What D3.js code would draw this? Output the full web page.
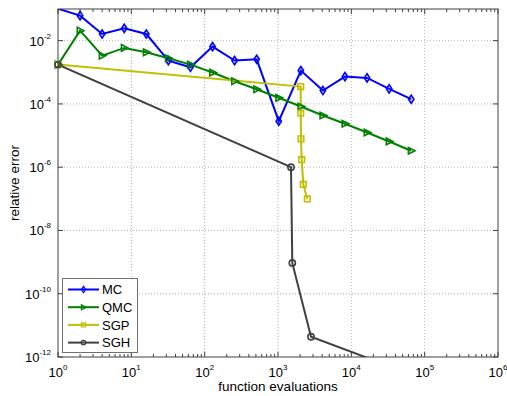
<!DOCTYPE html>
<html>
<head>
<meta charset="utf-8">
<script src="https://cdn.jsdelivr.net/npm/d3@7"></script>
<style>
  body { margin: 0; background: #fff; }
  text { font-family: "Liberation Sans", Arial, sans-serif; fill: #000; }
</style>
</head>
<body>
<div id="chart"></div>
<script>
// number of function evaluations and relative error for each method
const mcN = [1, 2, 4, 8, 16, 32, 64, 128, 256, 512, 1024, 2048, 4096, 8192, 16384, 32768, 65536];
const mcErr = [0.102, 0.0617, 0.0162, 0.0245, 0.0162, 0.00234, 0.00144, 0.00647, 0.00234, 0.00257,
               2.84e-5, 0.00113, 2.65e-4, 7.3e-4, 6.65e-4, 2.99e-4, 1.41e-4];
const qmcN = [1, 2, 4, 8, 16, 32, 64, 128, 256, 512, 1024, 2048, 4096, 8192, 16384, 32768, 65536];
const qmcErr = [1.75e-3, 0.0207, 0.00336, 0.00589, 0.00428, 0.00277, 0.00175, 9.8e-4, 5.2e-4, 2.91e-4,
                1.56e-4, 8.28e-5, 4.3e-5, 2.36e-5, 1.25e-5, 6.5e-6, 3.3e-6];
const sgpN = [1, 2041, 2041, 2058, 2105, 2214, 2511];
const sgpErr = [1.75e-3, 3.54e-4, 5.1e-5, 7.9e-6, 1.73e-6, 2.86e-7, 9.9e-8];
const sghN = [1, 1504, 1567, 2818, 30000];
const sghErr = [1.75e-3, 1.0e-6, 9.4e-10, 4.37e-12, 5.6e-13];

const xTicks = [0, 1, 2, 3, 4, 5, 6];           // exponents of 10
const yTicks = [-12, -10, -8, -6, -4, -2];

const series = [
  { name: "MC",  n: mcN,  err: mcErr,  color: "#0000ff", marker: "diamond" },
  { name: "QMC", n: qmcN, err: qmcErr, color: "#008000", marker: "triangle" },
  { name: "SGP", n: sgpN, err: sgpErr, color: "#bfbf00", marker: "square" },
  { name: "SGH", n: sghN, err: sghErr, color: "#404040", marker: "circle" }
];

const W = 507, H = 396;
const margin = { top: 9, right: 9, bottom: 39, left: 58 };
const width = W - margin.left - margin.right;
const height = H - margin.top - margin.bottom;

const svg = d3.select("#chart").append("svg")
  .attr("width", W).attr("height", H);
const g = svg.append("g").attr("transform", `translate(${margin.left},${margin.top})`);

const x = d3.scaleLog().domain([1, 1e6]).range([0, width]);
const y = d3.scaleLog().domain([1e-12, 1e-1]).range([height, 0]);

// grid
g.append("g").selectAll("line").data(xTicks.slice(1, -1)).join("line")
  .attr("x1", d => x(Math.pow(10, d))).attr("x2", d => x(Math.pow(10, d)))
  .attr("y1", 0).attr("y2", height)
  .attr("stroke", "#b4b4b4").attr("stroke-dasharray", "1,2");
g.append("g").selectAll("line").data(yTicks.slice(1)).join("line")
  .attr("y1", d => y(Math.pow(10, d))).attr("y2", d => y(Math.pow(10, d)))
  .attr("x1", 0).attr("x2", width)
  .attr("stroke", "#b4b4b4").attr("stroke-dasharray", "1,2");

// ticks (inside, on all four sides)
const minor = [];
for (let k = 0; k < 6; k++) for (let m = 2; m < 10; m++) minor.push(m * Math.pow(10, k));
const tickG = g.append("g").attr("stroke", "#404040");
[0, height].forEach(base => {
  const dir = base === 0 ? 1 : -1;
  tickG.append("g").selectAll("line").data(minor).join("line")
    .attr("x1", d => x(d)).attr("x2", d => x(d))
    .attr("y1", base).attr("y2", base + dir * 3);
  tickG.append("g").selectAll("line").data(xTicks).join("line")
    .attr("x1", d => x(Math.pow(10, d))).attr("x2", d => x(Math.pow(10, d)))
    .attr("y1", base).attr("y2", base + dir * 5);
});
[0, width].forEach(base => {
  const dir = base === 0 ? 1 : -1;
  tickG.append("g").selectAll("line").data(yTicks).join("line")
    .attr("y1", d => y(Math.pow(10, d))).attr("y2", d => y(Math.pow(10, d)))
    .attr("x1", base).attr("x2", base + dir * 5);
});

// tick labels
g.append("g").selectAll("text").data(xTicks).join("text")
  .attr("x", d => x(Math.pow(10, d)))
  .attr("y", height + 20)
  .attr("text-anchor", "middle")
  .style("font-size", "13px")
  .each(function(d) {
    const t = d3.select(this);
    t.append("tspan").text("10");
    t.append("tspan").attr("dy", -7).style("font-size", "8px").text(d);
  });
g.append("g").selectAll("text").data(yTicks).join("text")
  .attr("x", -7)
  .attr("y", d => y(Math.pow(10, d)) + 5)
  .attr("text-anchor", "end")
  .style("font-size", "13px")
  .each(function(d) {
    const t = d3.select(this);
    t.append("tspan").text("10");
    t.append("tspan").attr("dy", -7).style("font-size", "8px").text(d);
  });

// axis labels
svg.append("text")
  .attr("x", margin.left + width / 2).attr("y", H - 5)
  .attr("text-anchor", "middle").style("font-size", "13.5px")
  .text("function evaluations");
svg.append("text")
  .attr("transform", `translate(19,${margin.top + height / 2}) rotate(-90)`)
  .attr("text-anchor", "middle").style("font-size", "13.5px")
  .text("relative error");

// markers
function marker(sel, type, color) {
  const s = 3.3;
  let p;
  if (type === "diamond") p = `M0,${-s - 0.8}L${s - 0.6},0L0,${s + 0.8}L${-s + 0.6},0Z`;
  else if (type === "triangle") p = `M${s + 0.5},0L${-s + 0.5},${-s}L${-s + 0.5},${s}Z`;
  else if (type === "square") p = `M${-s + 0.5},${-s + 0.5}h${2 * s - 1}v${2 * s - 1}h${-2 * s + 1}Z`;
  else p = d3.symbol(d3.symbolCircle, 30)();
  sel.append("path").attr("d", p)
    .attr("fill", "none").attr("stroke", color).attr("stroke-width", 1.6);
}

// data lines
g.append("clipPath").attr("id", "clip").append("rect")
  .attr("width", width).attr("height", height);
const plot = g.append("g").attr("clip-path", "url(#clip)");
const line = d3.line().x(d => x(d[0])).y(d => y(d[1]));

series.forEach(s => {
  const pts = s.n.map((n, i) => [n, s.err[i]]);
  plot.append("path").datum(pts)
    .attr("d", line)
    .attr("fill", "none").attr("stroke", s.color).attr("stroke-width", 2);
  const visible = pts.filter(p => p[1] >= 1e-12 && p[1] <= 1e-1);
  g.append("g").selectAll("g").data(visible).join("g")
    .attr("transform", d => `translate(${x(d[0])},${y(d[1])})`)
    .each(function() { marker(d3.select(this), s.marker, s.color); });
});

// axes box
g.append("rect").attr("width", width).attr("height", height)
  .attr("fill", "none").attr("stroke", "#404040");

// legend
const lg = svg.append("g").attr("transform", "translate(62.5,278.5)");
lg.append("rect").attr("width", 75).attr("height", 74)
  .attr("fill", "#fff").attr("stroke", "#707070");
series.forEach((s, i) => {
  const row = lg.append("g").attr("transform", `translate(0,${11 + i * 17.7})`);
  row.append("line").attr("x1", 5.5).attr("x2", 36.5)
    .attr("stroke", s.color).attr("stroke-width", 2);
  const m = row.append("g").attr("transform", "translate(21,0) scale(0.75)");
  marker(m, s.marker, s.color);
  row.append("text").attr("x", 39.5).attr("y", 4.8)
    .style("font-size", "13px").text(s.name);
});
</script>
</body>
</html>
